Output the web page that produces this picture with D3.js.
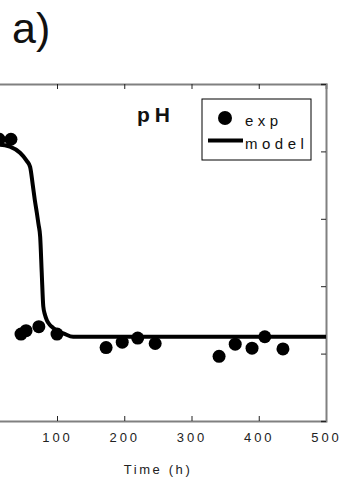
<!DOCTYPE html>
<html><head><meta charset="utf-8">
<script src="https://cdn.jsdelivr.net/npm/d3@7"></script>
<style>
html,body{margin:0;padding:0;background:#fff;}
svg{display:block;font-family:"Liberation Sans",Arial,sans-serif;}
</style></head>
<body>
<script>
// Experimental pH points: time (h), pH
const expTime = [14, 31.5, 46.5, 54, 73, 100, 173, 197, 220, 246, 341, 365, 390, 409, 436];
const expPH   = [7.18, 7.18, 4.29, 4.34, 4.40, 4.29, 4.09, 4.17, 4.23, 4.15, 3.96, 4.14, 4.08, 4.25, 4.07];
// Model curve
const modelTime = [0, 15, 30, 45, 55, 60, 64, 67, 70, 72.5, 75, 77.3, 79.6, 82, 84.7, 89, 94.5, 101, 109.4, 124, 200, 300, 400, 500];
const modelPH   = [7.10, 7.10, 7.07, 6.98, 6.86, 6.77, 6.50, 6.28, 6.09, 5.92, 5.73, 5.20, 4.70, 4.58, 4.50, 4.43, 4.38, 4.33, 4.30, 4.25, 4.25, 4.25, 4.25, 4.25];
const xTicks = [0, 100, 200, 300, 400, 500];
const xTickLabels = ["", "100", "200", "300", "400", "500"];
const yTicks = [3, 4, 5, 6, 7, 8];

(function () {
const W = 341, H = 482;
const svg = d3.select("body").append("svg").attr("width", W).attr("height", H);

const x = d3.scaleLinear().domain([0, 500]).range([-10.25, 326]);
const y = d3.scaleLinear().domain([3, 8]).range([421, 84]);

// panel label
svg.append("text").attr("x", 12).attr("y", 43)
  .attr("font-size", 43).attr("fill", "#111").text("a)");

// axes
const axisColor = "#808080";
const gTop = svg.append("g").attr("transform", `translate(0,${y(8)})`)
  .call(d3.axisBottom(x).tickValues(xTicks).tickSize(5).tickFormat(""));
const gBottom = svg.append("g").attr("transform", `translate(0,${y(3)})`)
  .call(d3.axisBottom(x).tickValues(xTicks).tickSizeInner(-5).tickSizeOuter(0).tickPadding(11.5)
    .tickFormat((d, i) => xTickLabels[i]));
const gRight = svg.append("g").attr("transform", `translate(${x(500)},0)`)
  .call(d3.axisLeft(y).tickValues(yTicks).tickSize(5).tickFormat(""));
[gTop, gBottom, gRight].forEach(g => {
  g.select(".domain").attr("stroke", axisColor).attr("stroke-width", 2);
  g.selectAll(".tick line").attr("stroke", "#222").attr("stroke-width", 1);
});
gBottom.selectAll(".tick text").attr("font-size", 13).attr("fill", "#222")
  .attr("letter-spacing", 3).attr("font-family", "Liberation Sans, Arial, sans-serif");

// axis title
svg.append("text").attr("x", 158).attr("y", 474).attr("text-anchor", "middle")
  .attr("font-size", 13).attr("letter-spacing", 2.6).attr("fill", "#222").text("Time (h)");

// model line
const line = d3.line().x(d => x(d[0])).y(d => y(d[1])).curve(d3.curveMonotoneX);
svg.append("path").datum(modelTime.map((t, i) => [t, modelPH[i]]))
  .attr("d", line).attr("fill", "none").attr("stroke", "#000").attr("stroke-width", 4);

// exp points
svg.append("g").selectAll("circle").data(expTime.map((t, i) => [t, expPH[i]]))
  .join("circle").attr("cx", d => x(d[0])).attr("cy", d => y(d[1])).attr("r", 6.5).attr("fill", "#000");

// pH label
svg.append("text").attr("x", 137).attr("y", 122).attr("font-size", 21)
  .attr("font-weight", "bold").attr("letter-spacing", 5).attr("fill", "#111").text("pH");

// legend
const lg = svg.append("g");
lg.append("rect").attr("x", 202).attr("y", 99).attr("width", 109).attr("height", 61)
  .attr("fill", "#fff").attr("stroke", "#000").attr("stroke-width", 1);
lg.append("circle").attr("cx", 225).attr("cy", 118).attr("r", 7).attr("fill", "#000");
lg.append("line").attr("x1", 208).attr("x2", 243).attr("y1", 140.5).attr("y2", 140.5)
  .attr("stroke", "#000").attr("stroke-width", 4);
lg.append("text").attr("x", 245).attr("y", 126).attr("font-size", 15)
  .attr("letter-spacing", 4.5).attr("fill", "#111").text("exp");
lg.append("text").attr("x", 245).attr("y", 149).attr("font-size", 15)
  .attr("letter-spacing", 4.5).attr("fill", "#111").text("model");
})();
</script>
</body></html>
